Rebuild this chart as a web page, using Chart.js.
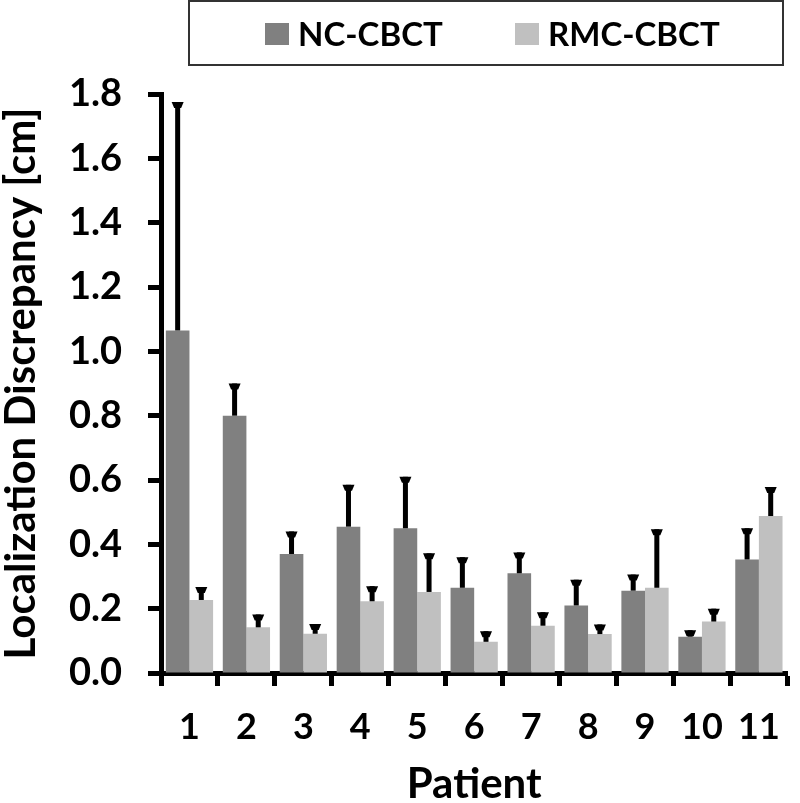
<!DOCTYPE html>
<html>
<head>
<meta charset="utf-8">
<script src="https://cdn.jsdelivr.net/npm/chart.js@4.4.1/dist/chart.umd.min.js"></script>
<style>
  html, body { margin: 0; padding: 0; background: #fff; }
  #wrap { width: 800px; height: 803px; }
</style>
</head>
<body>
<div id="wrap"><canvas id="chart" width="800" height="803"></canvas></div>
<script>
// data
const patients = ["1", "2", "3", "4", "5", "6", "7", "8", "9", "10", "11"];
const ncMean  = [1.065, 0.80, 0.37, 0.455, 0.45, 0.265, 0.31, 0.21, 0.256, 0.113, 0.353];
const ncErr   = [0.71, 0.10, 0.07, 0.13, 0.16, 0.095, 0.065, 0.08, 0.05, 0.02, 0.097];
const rmcMean = [0.227, 0.142, 0.122, 0.223, 0.252, 0.097, 0.147, 0.121, 0.265, 0.160, 0.488];
const rmcErr  = [0.04, 0.04, 0.03, 0.047, 0.12, 0.033, 0.042, 0.03, 0.182, 0.04, 0.09];
const yTicks  = [0, 0.2, 0.4, 0.6, 0.8, 1.0, 1.2, 1.4, 1.6, 1.8];

const FONT = "Lato, 'Open Sans', sans-serif";

/* ===============================
   ERROR BARS (upper only)
================================ */
const errorBars = {
  id: "errorBars",
  afterDatasetsDraw(chart) {
    const ctx = chart.ctx;
    const y = chart.scales.y;
    chart.data.datasets.forEach((ds, di) => {
      const meta = chart.getDatasetMeta(di);
      meta.data.forEach((bar, i) => {
        const top = y.getPixelForValue(ds.data[i] + ds.errors[i]);
        const x = bar.x;
        ctx.save();
        ctx.fillStyle = "#000";
        ctx.fillRect(x - 2.5, top, 5, bar.y - top);
        // little wedge cap
        ctx.beginPath();
        ctx.moveTo(x - 6, top);
        ctx.lineTo(x + 6, top);
        ctx.lineTo(x + 3.5, top + 6);
        ctx.lineTo(x - 3.5, top + 6);
        ctx.closePath();
        ctx.fill();
        ctx.restore();
      });
    });
  }
};

/* ===============================
   BOXED LEGEND
================================ */
const boxedLegend = {
  id: "boxedLegend",
  afterDraw(chart, args, opts) {
    const ctx = chart.ctx;
    ctx.save();
    ctx.strokeStyle = "#333";
    ctx.lineWidth = 2;
    ctx.strokeRect(opts.box[0], opts.box[1], opts.box[2], opts.box[3]);
    ctx.font = "bold 33px " + FONT;
    ctx.textBaseline = "middle";
    chart.data.datasets.forEach((ds, i) => {
      const sx = opts.items[i];
      ctx.fillStyle = ds.backgroundColor;
      ctx.fillRect(sx, 23, 24, 22);
      ctx.fillStyle = "#000";
      ctx.fillText(ds.label, sx + 33, 35);
    });
    ctx.restore();
  }
};

new Chart(document.getElementById("chart"), {
  type: "bar",
  data: {
    labels: patients,
    datasets: [
      { label: "NC-CBCT", data: ncMean, errors: ncErr, backgroundColor: "#808080" },
      { label: "RMC-CBCT", data: rmcMean, errors: rmcErr, backgroundColor: "#c0c0c0" }
    ]
  },
  options: {
    responsive: false,
    animation: false,
    layout: { padding: { top: 94, right: 5, left: 0, bottom: 0 } },
    datasets: { bar: { categoryPercentage: 0.83, barPercentage: 1.0 } },
    plugins: {
      legend: { display: false },
      tooltip: { enabled: false },
      boxedLegend: { box: [189, 1, 594, 64], items: [265, 515] }
    },
    scales: {
      x: {
        grid: { drawOnChartArea: false, drawTicks: true, tickLength: 13, tickWidth: 5, tickColor: "#000", offset: true },
        border: { color: "#000", width: 5 },
        ticks: { color: "#000", font: { family: FONT, size: 36, weight: "bold" }, padding: 20, maxRotation: 0 },
        title: { display: true, text: "Patient", color: "#000", font: { family: FONT, size: 42, weight: "bold", lineHeight: 0.9 }, padding: 0 },
        afterFit: s => { s.height = 130; }
      },
      y: {
        min: 0,
        max: 1.8,
        afterBuildTicks: s => { s.ticks = yTicks.map(v => ({ value: v })); },
        grid: { drawOnChartArea: false, drawTicks: true, tickLength: 13, tickWidth: 5, tickColor: "#000" },
        border: { color: "#000", width: 5 },
        ticks: { color: "#000", font: { family: FONT, size: 38, weight: "bold" }, padding: 26,
                 callback: v => Number(v).toFixed(1) },
        title: { display: true, text: "Localization Discrepancy [cm]", color: "#000", font: { family: FONT, size: 42, weight: "bold", lineHeight: 1.0 }, padding: 0 },
        afterFit: s => { s.width = 161; }
      }
    }
  },
  plugins: [errorBars, boxedLegend]
});
</script>
</body>
</html>
